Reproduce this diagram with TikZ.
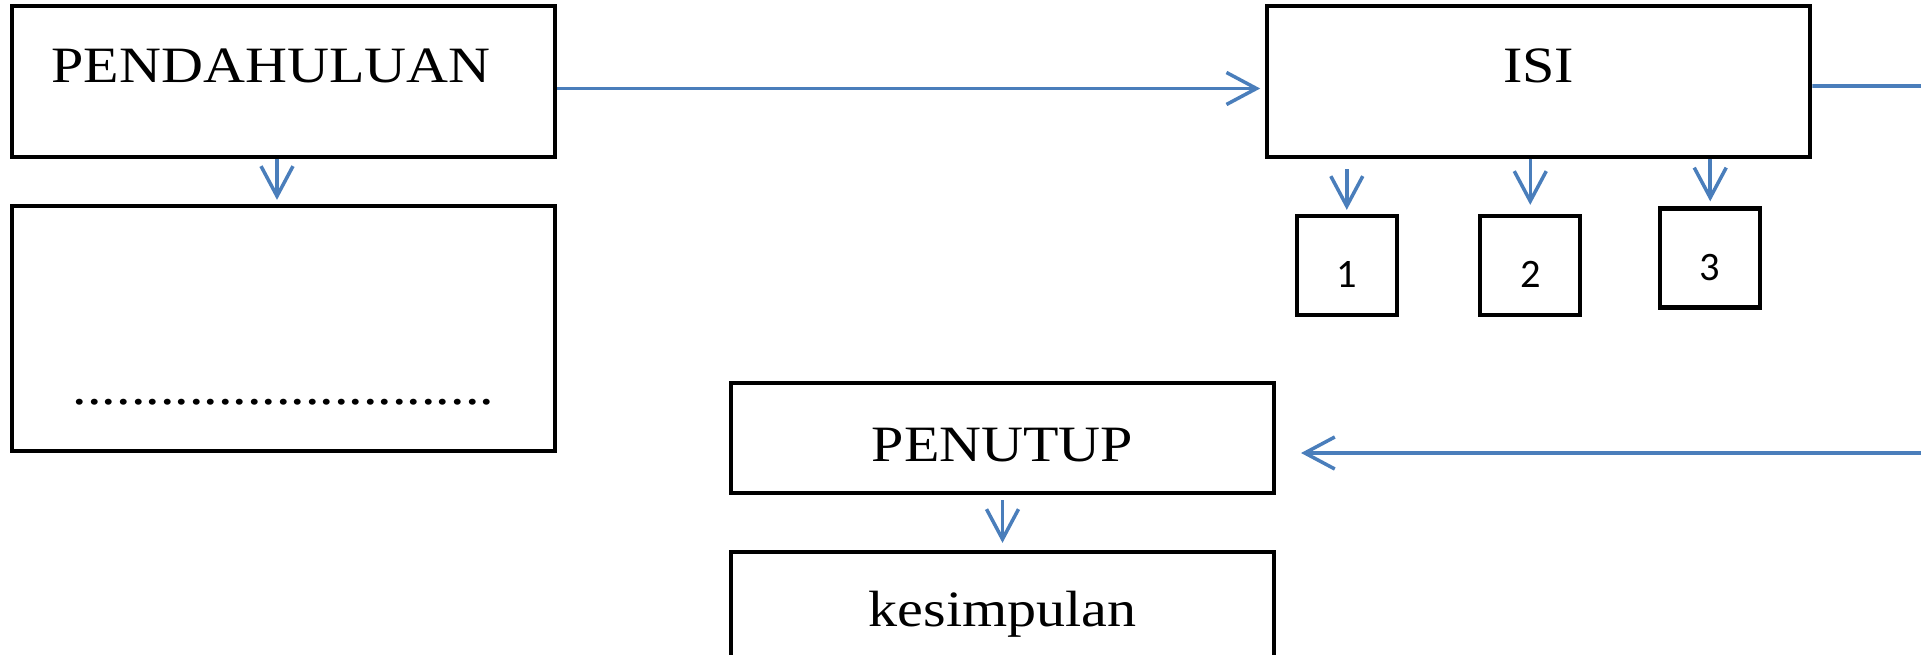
\documentclass[tikz,border=0pt]{standalone}
\usepackage{fontspec}
\setmainfont{Liberation Serif}[FakeStretch=1.14]
\newfontfamily\numfont{Carlito}
\usetikzlibrary{arrows.meta,positioning}
\definecolor{lineblue}{HTML}{4A7EBB}

\begin{document}
\begin{tikzpicture}[x=0.02cm,y=-0.02cm,->,>={Straight Barb[length=0.6cm,width=0.64cm]},
    big box/.style={draw,line width=2.4pt,minimum width=10.86cm,inner ysep=0pt,font=\fontsize{29}{34}\selectfont},
    num box/.style={draw,line width=2.4pt,minimum width=2cm,inner ysep=0pt,text height=1.44cm,text depth=0.54cm,font=\numfont\fontsize{23}{27}\selectfont},
    link/.style={draw=lineblue,line width=2pt}]
                \useasboundingbox (0,0) rectangle (1921,655);
                \clip (0,0) rectangle (1921,655);

                \node[big box,text height=1.54cm,text depth=1.48cm] (pend) at (283.5,81.5) {\hspace*{-0.5cm}PENDAHULUAN};
                \node[big box,text height=3.98cm,text depth=0.92cm] (dots) [below of=pend,node distance=4.94cm] {.............................};
                \node[big box,text height=1.54cm,text depth=1.48cm] (isi) [right of=pend,node distance=25.11cm] {ISI};
                \node[num box] (n2) [below of=isi,node distance=3.68cm,xshift=-0.17cm] {2};
                \node[num box] (n1) [left of=n2,node distance=3.67cm] {1};
                \node[num box] (n3) [right of=n2,node distance=3.6cm,yshift=0.15cm] {3};
                \node[big box,text height=1.58cm,text depth=0.62cm] (penutup) at (1002.5,438) {PENUTUP};
                \node[big box,text height=1.5cm,text depth=0.7cm] (kes) [below of=penutup,node distance=3.38cm] {kesimpulan};

                % free ends at the right edge
                \coordinate (isi out) at (1921,86);
                \coordinate (pen in) at (1921,453);

                \path[every edge/.append style=link]
                    ([yshift=-0.14cm]pend.east) edge [shorten >=0.1cm] ([yshift=-0.14cm]isi.west)
                    ([xshift=-0.13cm]pend.south) edge [shorten >=0.08cm] ([xshift=-0.13cm]dots.north)
                    ([yshift=-0.09cm]isi.east) edge [-] (isi out)
                    (isi.south -| n1.north) edge [shorten <=0.2cm, shorten >=0.08cm] (n1.north)
                    (isi.south -| n2.north) edge [shorten >=0.18cm] (n2.north)
                    (isi.south -| n3.north) edge [shorten >=0.1cm] (n3.north)
                    (pen in) edge [shorten >=0.5cm] (pen in -| penutup.east)
                    (penutup.south) edge [shorten <=0.1cm, shorten >=0.14cm] (kes.north)
                    ;
\end{tikzpicture}
\end{document}
